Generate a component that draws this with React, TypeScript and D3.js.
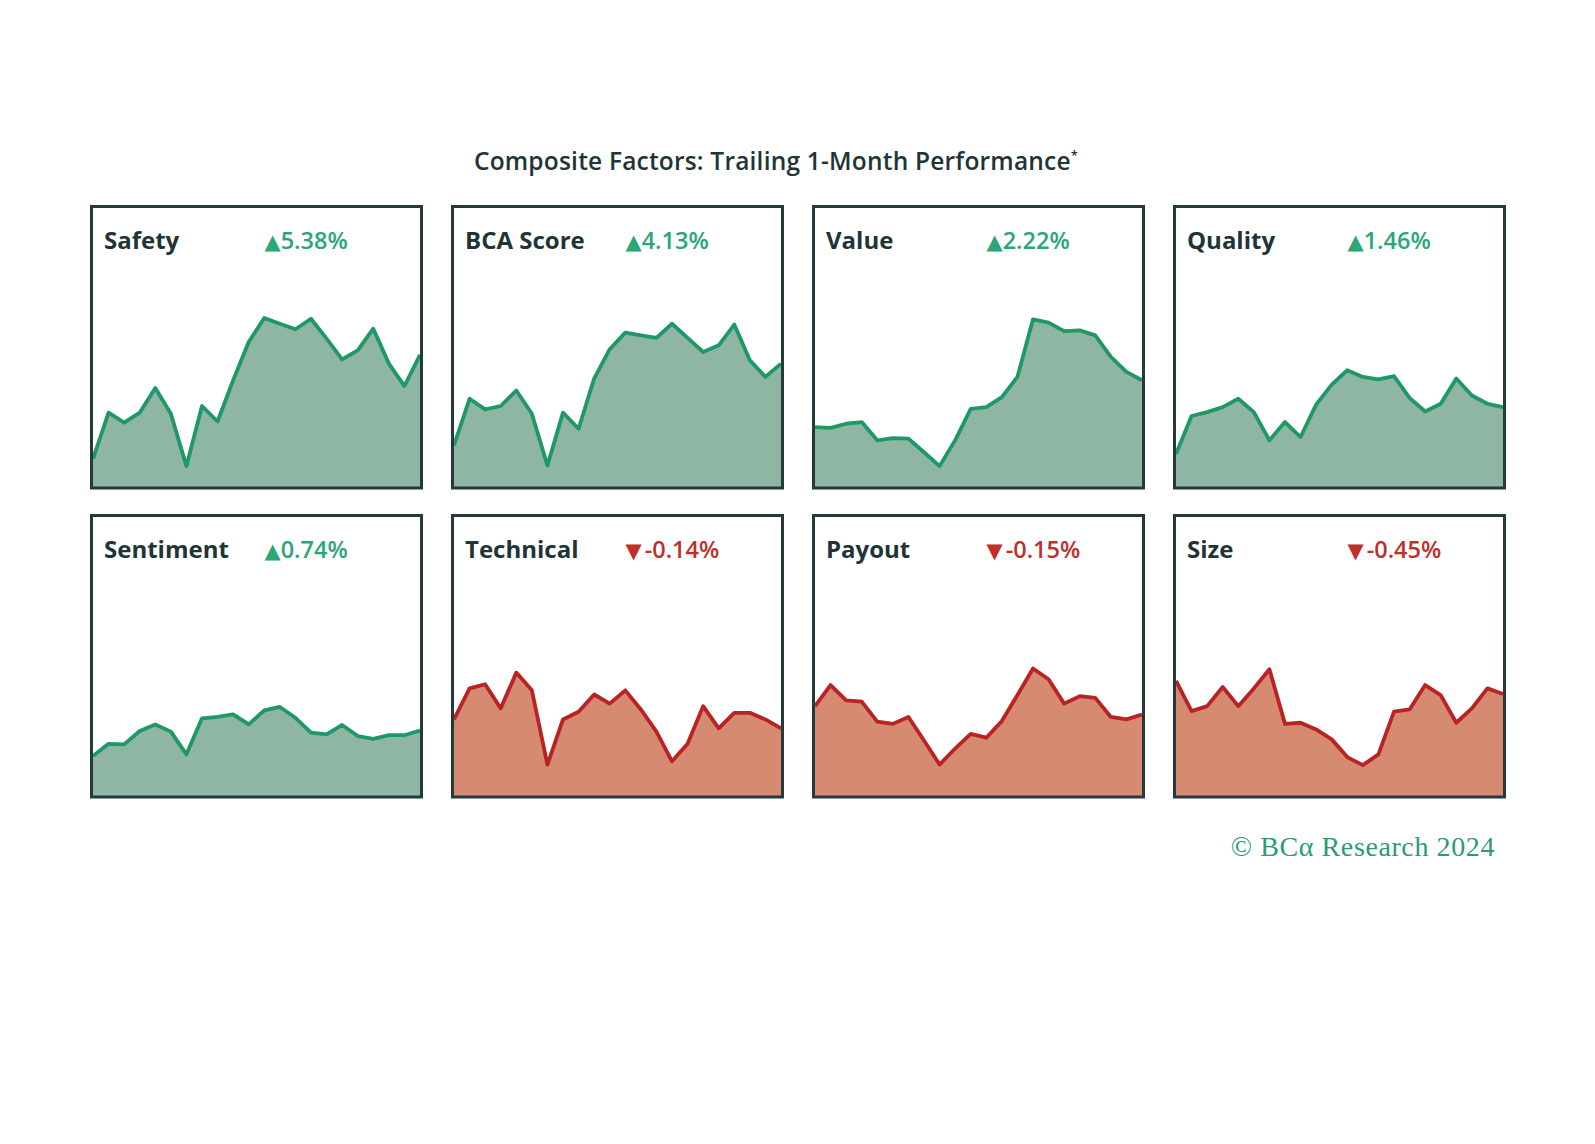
import React from "react";
import * as d3 from "d3";

// factor panels, in reading order
const factorNames = ["Safety", "BCA Score", "Value", "Quality", "Sentiment", "Technical", "Payout", "Size"];
const factorChanges = [5.38, 4.13, 2.22, 1.46, 0.74, -0.14, -0.15, -0.45];

// trailing month of daily cumulative levels (index units)
const safetySeries = [9.6, 26.3, 22.7, 26.3, 35.2, 25.9, 7.0, 28.7, 23.1, 38.0, 51.8, 60.5, 58.4, 56.4, 60.2, 53.0, 45.5, 48.8, 56.6, 44.0, 35.9, 47.2];
const bcaScoreSeries = [14.5, 31.3, 27.5, 28.7, 34.3, 25.9, 7.2, 26.3, 20.5, 38.6, 49.2, 55.2, 54.2, 53.3, 58.4, 53.3, 48.2, 50.6, 58.1, 45.2, 39.2, 44.0];
const valueSeries = [21.1, 20.8, 22.3, 22.9, 16.3, 17.1, 16.9, 12.0, 7.0, 16.3, 27.7, 28.3, 31.9, 39.2, 60.0, 58.8, 55.7, 56.0, 54.2, 46.4, 41.0, 38.0];
const qualitySeries = [11.4, 25.1, 26.5, 28.3, 31.3, 26.5, 16.3, 22.9, 17.5, 29.2, 36.4, 41.6, 39.2, 38.3, 39.5, 31.6, 26.7, 29.5, 38.6, 32.5, 29.5, 28.3];
const sentimentSeries = [13.9, 18.3, 18.1, 22.9, 25.3, 22.7, 14.5, 27.5, 28.0, 28.9, 25.3, 30.4, 31.6, 27.7, 22.3, 21.7, 25.1, 21.1, 20.1, 21.4, 21.4, 23.1];
const technicalSeries = [27.1, 38.3, 39.8, 31.1, 44.0, 37.6, 10.8, 27.1, 29.9, 36.1, 32.8, 37.6, 30.7, 22.7, 12.0, 18.3, 31.9, 23.9, 29.5, 29.5, 27.1, 23.9];
const payoutSeries = [31.9, 39.5, 34.0, 33.5, 26.3, 25.5, 28.0, 19.5, 10.8, 16.6, 21.9, 20.5, 26.5, 35.9, 45.5, 41.6, 32.8, 35.5, 34.9, 28.0, 27.1, 28.9];
const sizeSeries = [41.0, 30.1, 31.9, 38.8, 31.9, 38.3, 45.2, 25.5, 25.9, 23.5, 19.9, 13.5, 10.6, 14.5, 29.9, 30.7, 39.5, 35.9, 25.9, 31.1, 38.3, 36.3];

const allSeries = [safetySeries, bcaScoreSeries, valueSeries, qualitySeries, sentimentSeries, technicalSeries, payoutSeries, sizeSeries];

const W = 1595;
const H = 1144;
const panelW = 330;
const panelH = 281.5;
const colStep = 361;
const rowStep = 309;
const gridLeft = 91.5;
const gridTop = 206.5;

const UP = { line: "#1f9868", fill: "#8fb6a3", text: "#2aa677" };
const DOWN = { line: "#b92323", fill: "#d68a72", text: "#c0302b" };
const ink = "#1f3436";
const frame = "#243a3c";

const Panel = ({ name, change, values, x, y, idx }) => {
  const c = change >= 0 ? UP : DOWN;
  const xScale = d3.scaleLinear().domain([0, values.length - 1]).range([1.5, panelW - 1.5]);
  const yScale = d3.scaleLinear().domain([0, 100]).range([279, 2]);
  const area = d3.area().x((d, i) => xScale(i)).y0(panelH).y1((d) => yScale(d));
  const line = d3.line().x((d, i) => xScale(i)).y((d) => yScale(d));
  // plain hyphen for negatives, as in the original
  const label = (change < 0 ? "-" : "") + Math.abs(change).toFixed(2) + "%";
  return (
    <g transform={`translate(${x},${y})`}>
      <defs>
        <clipPath id={`clip-${idx}`}>
          <rect x={0} y={0} width={panelW} height={panelH} />
        </clipPath>
      </defs>
      <rect x={0} y={0} width={panelW} height={panelH} fill="#fff" />
      <g clipPath={`url(#clip-${idx})`}>
        <path d={area(values)} fill={c.fill} />
        <path d={line(values)} fill="none" stroke={c.line} strokeWidth={3.8} strokeLinejoin="round" />
      </g>
      <rect x={0} y={0} width={panelW} height={panelH} fill="none" stroke={frame} strokeWidth={3} />
      <text x={12.5} y={42.5} fontFamily="'Open Sans', sans-serif" fontWeight={700} fontSize={24} fill={ink}>
        {name}
      </text>
      <text x={173} y={42.5} fontFamily="'Open Sans', sans-serif" fontWeight={600} fontSize={23.5} fill={c.text}>
        <tspan fontFamily="'DejaVu Sans', sans-serif" fontSize={21}>{change >= 0 ? "▲" : "▼"}</tspan>
        <tspan dx={change >= 0 ? 0 : 3}>{label}</tspan>
      </text>
    </g>
  );
};

export default function App() {
  return (
    <svg width={W} height={H} style={{ position: "absolute", left: 0, top: 0, background: "#fff" }}>
      <text x={776} y={170} textAnchor="middle" fontFamily="'Open Sans', sans-serif" fontWeight={600} fontSize={24.5} letterSpacing={0.2} fill={ink}>
        Composite Factors: Trailing 1-Month Performance
        <tspan fontSize={13} dy={-10}>*</tspan>
      </text>
      {factorNames.map((name, i) => (
        <Panel
          key={name}
          idx={i}
          name={name}
          change={factorChanges[i]}
          values={allSeries[i]}
          x={gridLeft + (i % 4) * colStep}
          y={gridTop + Math.floor(i / 4) * rowStep}
        />
      ))}
      <text x={1495} y={856} textAnchor="end" fontFamily="'Liberation Serif', 'DejaVu Serif', serif" fontSize={28} letterSpacing={0.6} fill="#2a9c70">
        © BCα Research 2024
      </text>
    </svg>
  );
}
